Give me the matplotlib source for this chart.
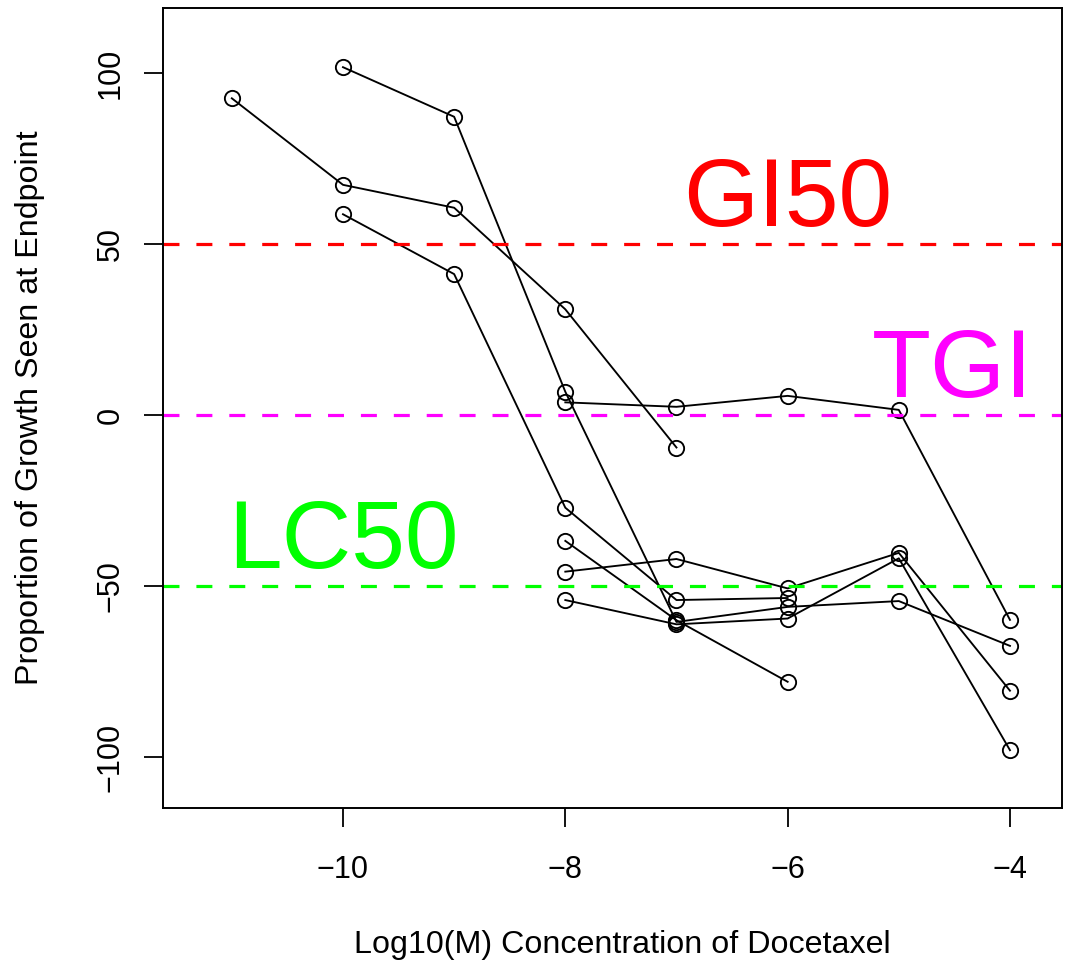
import matplotlib
matplotlib.use("Agg")
from matplotlib import pyplot as plt

plt.rcParams['font.family'] = ['Liberation Sans', 'DejaVu Sans']

# each cell line: log10 concentration vs growth at endpoint
conc_1 = [-11, -10, -9, -8, -7]
growth_1 = [92.6, 67.3, 60.6, 30.9, -9.5]

conc_2 = [-10, -9, -8, -7, -6, -5, -4]
growth_2 = [101.7, 87.2, 6.8, -60.5, -56.1, -54.4, -67.5]

conc_3 = [-10, -9, -8, -7, -6]
growth_3 = [58.7, 41.2, -27.1, -54.1, -53.5]

conc_4 = [-8, -7, -6, -5, -4]
growth_4 = [3.7, 2.4, 5.6, 1.5, -59.9]

conc_5 = [-8, -7, -6]
growth_5 = [-36.8, -60.0, -78.0]

conc_6 = [-8, -7, -6, -5, -4]
growth_6 = [-45.8, -42.1, -50.7, -40.3, -80.6]

conc_7 = [-8, -7, -6, -5, -4]
growth_7 = [-54.1, -61.2, -59.5, -41.9, -98.0]

curves = [(conc_1, growth_1), (conc_2, growth_2), (conc_3, growth_3),
          (conc_4, growth_4), (conc_5, growth_5), (conc_6, growth_6),
          (conc_7, growth_7)]

# reference lines
ref_names = ["GI50", "TGI", "LC50"]
ref_levels = [50, 0, -50]
ref_colors = ["#ff0000", "#ff00ff", "#00ff00"]
ref_text_x = [-6.0, -4.52, -10.0]
ref_text_y = [55.3, 5.3, -44.7]

x_ticks = [-10, -8, -6, -4]
y_ticks = [100, 50, 0, -50, -100]

fig = plt.figure(figsize=(10.78, 9.65), dpi=100)
ax = fig.add_axes([163 / 1078, 1 - 808 / 965, 899 / 1078, 800 / 965])

for x, y in curves:
    ax.plot(x, y, color='black', linewidth=1.35, marker='o', markersize=11,
            markerfacecolor='none', markeredgecolor='black',
            markeredgewidth=1.35)

for lvl, col in zip(ref_levels, ref_colors):
    ax.axhline(lvl, color=col, linewidth=2.3, dashes=(5, 5.3))

for name, col, tx, ty in zip(ref_names, ref_colors, ref_text_x, ref_text_y):
    ax.text(tx, ty, name, color=col, fontsize=69.5, ha='center', va='baseline')

ax.set_xlim(-11.619, -3.532)
ax.set_ylim(-114.9, 119.0)
ax.set_xticks(x_ticks)
ax.set_yticks(y_ticks)
ax.tick_params(axis='both', labelsize=22, length=13.7, width=1.3,
               direction='out')
ax.tick_params(axis='x', pad=20)
ax.tick_params(axis='y', pad=13, labelrotation=90)
for lab in ax.get_yticklabels():
    lab.set_va('center')
for sp in ax.spines.values():
    sp.set_linewidth(1.4)

fig.text(622 / 1078, 1 - 953 / 965, "Log10(M) Concentration of Docetaxel",
         fontsize=23.2, ha='center', va='baseline')
fig.text(30 / 1078, 1 - 408 / 965, "Proportion of Growth Seen at Endpoint",
         fontsize=23.2, rotation=90, ha='center', va='center')

fig.savefig("out.png", dpi=100)
